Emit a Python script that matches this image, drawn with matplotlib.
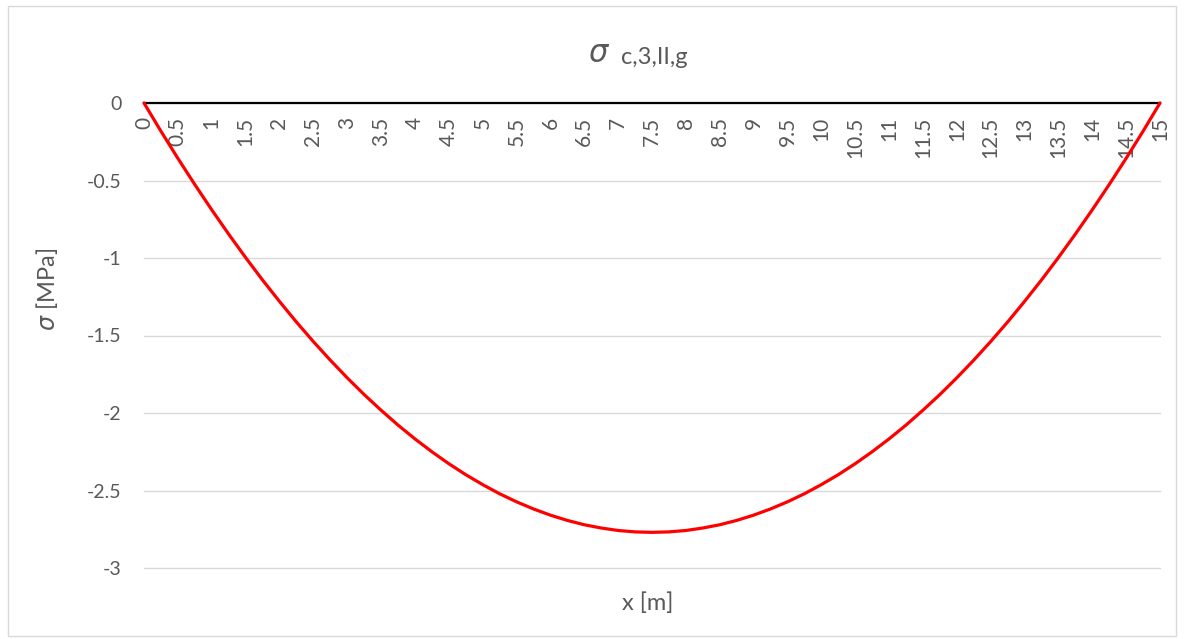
import matplotlib
matplotlib.use('Agg')
import matplotlib.pyplot as plt
from matplotlib.patches import Rectangle
from matplotlib.ticker import FuncFormatter

### Data ###

x_m = [0, 0.25, 0.5, 0.75, 1, 1.25, 1.5, 1.75, 2, 2.25, 2.5, 2.75, 3,
       3.25, 3.5, 3.75, 4, 4.25, 4.5, 4.75, 5, 5.25, 5.5, 5.75, 6, 6.25,
       6.5, 6.75, 7, 7.25, 7.5, 7.75, 8, 8.25, 8.5, 8.75, 9, 9.25, 9.5,
       9.75, 10, 10.25, 10.5, 10.75, 11, 11.25, 11.5, 11.75, 12, 12.25,
       12.5, 12.75, 13, 13.25, 13.5, 13.75, 14, 14.25, 14.5, 14.75, 15]
sigma_mpa = [0, -0.182, -0.357, -0.526, -0.689, -0.846, -0.997, -1.142,
             -1.280, -1.413, -1.539, -1.659, -1.773, -1.881, -1.982, -2.078,
             -2.167, -2.250, -2.327, -2.398, -2.462, -2.521, -2.573, -2.619,
             -2.659, -2.693, -2.721, -2.742, -2.758, -2.767, -2.770,
             -2.767, -2.758, -2.742, -2.721, -2.693, -2.659, -2.619, -2.573,
             -2.521, -2.462, -2.398, -2.327, -2.250, -2.167, -2.078, -1.982,
             -1.881, -1.773, -1.659, -1.539, -1.413, -1.280, -1.142, -0.997,
             -0.846, -0.689, -0.526, -0.357, -0.182, 0]
x_ticks = [0, 0.5, 1, 1.5, 2, 2.5, 3, 3.5, 4, 4.5, 5, 5.5, 6, 6.5, 7, 7.5,
           8, 8.5, 9, 9.5, 10, 10.5, 11, 11.5, 12, 12.5, 13, 13.5, 14, 14.5, 15]
y_ticks = [0, -0.5, -1, -1.5, -2, -2.5, -3]

GREY = '#595959'
plt.rcParams['font.family'] = ['Lato', 'DejaVu Sans']
plt.rcParams['mathtext.fontset'] = 'dejavusans'

fig = plt.figure(figsize=(11.84, 6.39), dpi=100)
ax = fig.add_axes([144 / 1184, 1 - 568 / 639, (1160 - 144) / 1184, (568 - 103) / 639])

ax.plot(x_m, sigma_mpa, color='#ff0000', lw=2.3, solid_joinstyle='round',
        solid_capstyle='round', zorder=3, clip_on=False)

ax.set_xlim(0, 15)
ax.set_ylim(-3, 0)
ax.set_xticks(x_ticks)
ax.xaxis.set_major_formatter(FuncFormatter(lambda v, p: '%g' % v))
ax.set_yticks(y_ticks)
ax.yaxis.set_major_formatter(FuncFormatter(lambda v, p: '%g' % v))

for s in ('top', 'right', 'left'):
    ax.spines[s].set_visible(False)
ax.spines['bottom'].set_position(('data', 0))
ax.spines['bottom'].set_color('black')
ax.spines['bottom'].set_linewidth(1.6)
ax.spines['bottom'].set_zorder(2)

ax.tick_params(axis='x', length=0, pad=10, labelsize=15, labelcolor=GREY,
               labelrotation=90)
ax.tick_params(axis='y', length=0, pad=16, labelsize=14, labelcolor=GREY)
ax.grid(axis='y', color='#d9d9d9', lw=1)
for gl in ax.get_ygridlines():
    gl.set_clip_on(False)
ax.set_axisbelow(True)

ax.set_xlabel('x [m]', fontsize=17, color=GREY)
ax.xaxis.set_label_coords(0.496, -0.052)
ax.set_ylabel(r'$\sigma$ [MPa]', fontsize=17, color=GREY)
ax.yaxis.set_label_coords(-0.083, 0.6)

fig.text(599 / 1184, 1 - 53 / 639, r'$\sigma$', fontsize=22, color=GREY,
         ha='center', va='center')
fig.text(621 / 1184, 1 - 57 / 639, 'c,3,II,g', fontsize=17, color=GREY,
         ha='left', va='center')

fig.patches.append(Rectangle((8 / 1184, 3 / 639), 1168 / 1184, 630 / 639,
                             transform=fig.transFigure, fill=False,
                             ec='#d9d9d9', lw=1))

plt.savefig('out.png', dpi=100)
plt.close()
